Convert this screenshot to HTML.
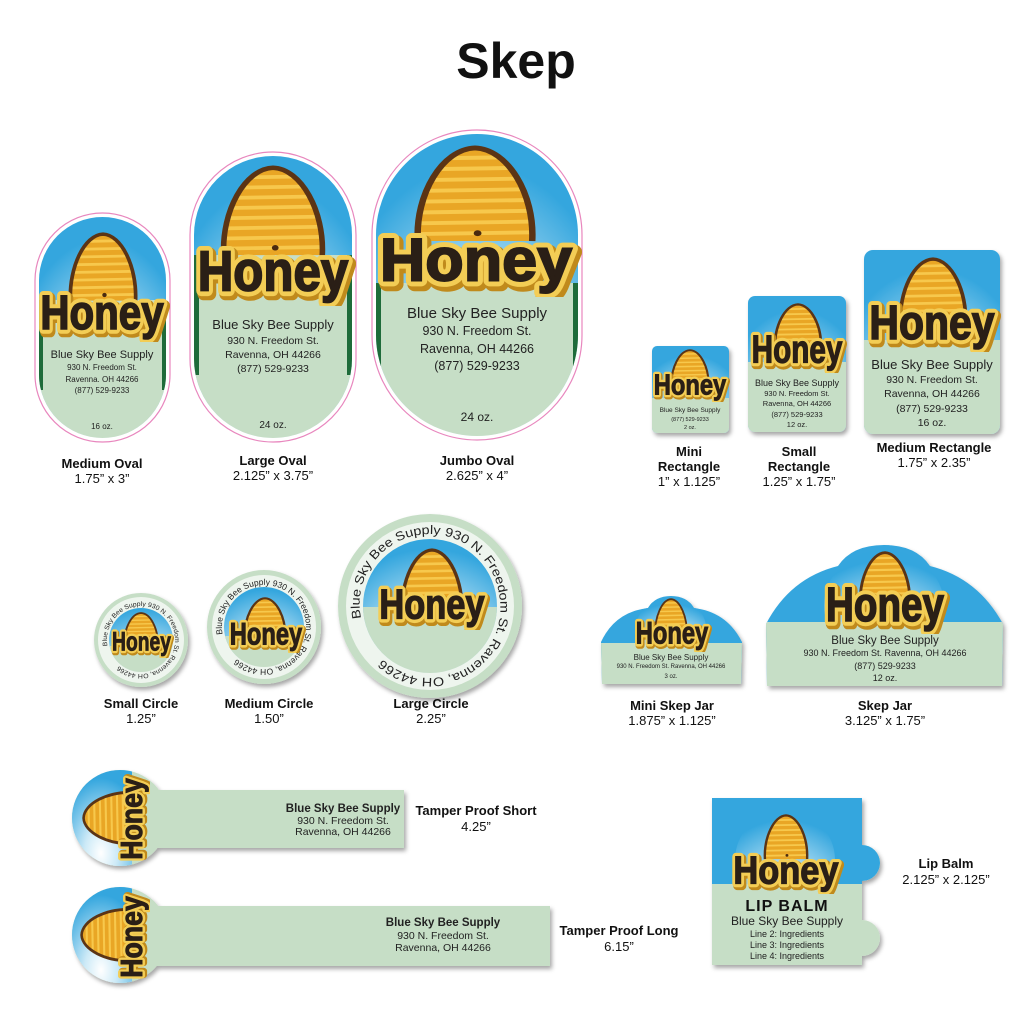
<!DOCTYPE html>
<html><head><meta charset="utf-8"><style>
html,body{margin:0;padding:0;background:#fff}
svg{display:block;font-family:"Liberation Sans",sans-serif}
.c{font-weight:bold;font-size:13px;fill:#111;text-anchor:middle}
.d{font-size:13px;fill:#111;text-anchor:middle}
.t{fill:#222;text-anchor:middle}
</style></head><body>
<svg width="1033" height="1032" viewBox="0 0 1033 1032" xmlns="http://www.w3.org/2000/svg">
<defs>
<radialGradient id="sky" cx="50%" cy="85%" r="75%">
<stop offset="0" stop-color="#ffffff"/><stop offset=".35" stop-color="#cdeaf7"/><stop offset="1" stop-color="#34a6de"/></radialGradient>
<filter id="sh" x="-10%" y="-10%" width="130%" height="130%"><feDropShadow dx="2" dy="3" stdDeviation="2" flood-color="#000" flood-opacity=".35"/></filter>
<clipPath id="dome"><path d="M6,98 C4,50 25,4 50,3 C75,4 96,50 94,98 Z"/></clipPath>
<symbol id="skep" viewBox="0 0 100 100" preserveAspectRatio="none">
<path d="M6,98 C4,50 25,4 50,3 C75,4 96,50 94,98 Z" fill="#e9a625"/>
<g clip-path="url(#dome)" stroke="#f7c84c" stroke-width="4">
<line x1="0" y1="14" x2="100" y2="12"/><line x1="0" y1="25" x2="100" y2="23"/><line x1="0" y1="36" x2="100" y2="34"/><line x1="0" y1="47" x2="100" y2="45"/><line x1="0" y1="58" x2="100" y2="56"/><line x1="0" y1="69" x2="100" y2="67"/><line x1="0" y1="80" x2="100" y2="78"/><line x1="0" y1="91" x2="100" y2="89"/></g>
<path d="M6,98 C4,50 25,4 50,3 C75,4 96,50 94,98" fill="none" stroke="#5b3415" stroke-width="5"/>
<circle cx="52" cy="90" r="3" fill="#4a2a10"/>
</symbol>
<symbol id="honey" viewBox="0 0 300 110" preserveAspectRatio="none">
<text x="154" y="90" text-anchor="middle" font-family="Liberation Sans" font-size="92" font-weight="bold" textLength="272" lengthAdjust="spacingAndGlyphs" fill="#c08a1c" stroke="#c08a1c" stroke-width="22" stroke-linejoin="round">Honey</text>
<text x="150" y="85" text-anchor="middle" font-family="Liberation Sans" font-size="92" font-weight="bold" textLength="272" lengthAdjust="spacingAndGlyphs" fill="#f3cd55" stroke="#f3cd55" stroke-width="18" stroke-linejoin="round">Honey</text>
<text x="150" y="85" text-anchor="middle" font-family="Liberation Sans" font-size="92" font-weight="bold" textLength="272" lengthAdjust="spacingAndGlyphs" fill="#2a1f16" stroke="#2a1f16" stroke-width="3">Honey</text>
</symbol>
<clipPath id="co1"><rect x="39" y="217" width="127" height="221" rx="63.5"/></clipPath>
<clipPath id="co2"><rect x="194" y="156" width="158" height="282" rx="79"/></clipPath>
<clipPath id="co3"><rect x="376" y="134" width="202" height="302" rx="101"/></clipPath>
</defs>

<text x="516" y="78" text-anchor="middle" font-size="50" font-weight="bold" fill="#111">Skep</text>

<!-- Medium Oval -->
<rect x="35" y="213" width="135" height="229" rx="67.5" fill="#fff" stroke="#e887be" stroke-width="1.2"/>
<g clip-path="url(#co1)">
<rect x="39" y="217" width="127" height="221" fill="url(#sky)"/>
<rect x="39" y="300" width="127" height="140" fill="#c6dec6"/>
<rect x="39" y="300" width="4" height="90" fill="#1e6b3a"/><rect x="162" y="300" width="4" height="90" fill="#1e6b3a"/>
</g>
<use href="#skep" x="66" y="232" width="74" height="70"/>
<use href="#honey" x="34" y="284" width="136" height="58"/>
<text class="t" x="102" y="358" font-size="11">Blue Sky Bee Supply</text>
<text class="t" x="102" y="370" font-size="8">930 N. Freedom St.</text>
<text class="t" x="102" y="382" font-size="8">Ravenna. OH 44266</text>
<text class="t" x="102" y="393" font-size="8">(877) 529-9233</text>
<text class="t" x="102" y="429" font-size="8">16 oz.</text>
<text class="c" x="102" y="468">Medium Oval</text><text class="d" x="102" y="483">1.75” x 3”</text>

<!-- Large Oval -->
<rect x="190" y="152" width="166" height="290" rx="83" fill="#fff" stroke="#e887be" stroke-width="1.2"/>
<g clip-path="url(#co2)">
<rect x="194" y="156" width="158" height="282" fill="url(#sky)"/>
<rect x="194" y="255" width="158" height="185" fill="#c6dec6"/>
<rect x="194" y="255" width="5" height="120" fill="#1e6b3a"/><rect x="347" y="255" width="5" height="120" fill="#1e6b3a"/>
</g>
<use href="#skep" x="217" y="165" width="112" height="92"/>
<use href="#honey" x="190" y="238" width="166" height="68"/>
<text class="t" x="273" y="329" font-size="13">Blue Sky Bee Supply</text>
<text class="t" x="273" y="344" font-size="10.5">930 N. Freedom St.</text>
<text class="t" x="273" y="358" font-size="10.5">Ravenna, OH 44266</text>
<text class="t" x="273" y="372" font-size="10.5">(877) 529-9233</text>
<text class="t" x="273" y="428" font-size="10">24 oz.</text>
<text class="c" x="273" y="465">Large Oval</text><text class="d" x="273" y="480">2.125” x 3.75”</text>

<!-- Jumbo Oval -->
<rect x="372" y="130" width="210" height="310" rx="105" fill="#fff" stroke="#e887be" stroke-width="1.2"/>
<g clip-path="url(#co3)">
<rect x="376" y="134" width="202" height="302" fill="url(#sky)"/>
<rect x="376" y="283" width="202" height="155" fill="#c6dec6"/>
<rect x="376" y="283" width="5" height="85" fill="#1e6b3a"/><rect x="573" y="283" width="5" height="85" fill="#1e6b3a"/>
</g>
<use href="#skep" x="410" y="145" width="130" height="98"/>
<use href="#honey" x="370" y="225" width="212" height="72"/>
<text class="t" x="477" y="318" font-size="15">Blue Sky Bee Supply</text>
<text class="t" x="477" y="335" font-size="12.5">930 N. Freedom St.</text>
<text class="t" x="477" y="353" font-size="12.5">Ravenna, OH 44266</text>
<text class="t" x="477" y="370" font-size="12.5">(877) 529-9233</text>
<text class="t" x="477" y="421" font-size="12">24 oz.</text>
<text class="c" x="477" y="465">Jumbo Oval</text><text class="d" x="477" y="480">2.625” x 4”</text>

<!-- Rectangles -->
<g filter="url(#sh)">
<rect x="652" y="346" width="77" height="87" rx="5" fill="url(#sky)"/>
<rect x="748" y="296" width="98" height="136" rx="7" fill="url(#sky)"/>
<rect x="864" y="250" width="136" height="184" rx="9" fill="url(#sky)"/>
</g>
<path d="M652,398 H729 V428 a5,5 0 0 1 -5,5 H657 a5,5 0 0 1 -5,-5 Z" fill="#c6dec6"/>
<path d="M748,362 H846 V425 a7,7 0 0 1 -7,7 H755 a7,7 0 0 1 -7,-7 Z" fill="#c6dec6"/>
<path d="M864,340 H1000 V425 a9,9 0 0 1 -9,9 H873 a9,9 0 0 1 -9,-9 Z" fill="#c6dec6"/>
<use href="#skep" x="669" y="349" width="42" height="38"/>
<use href="#honey" x="650" y="368" width="80" height="34"/>
<text class="t" x="690" y="412" font-size="6.5">Blue Sky Bee Supply</text>
<text class="t" x="690" y="421" font-size="5.5">(877) 529-9233</text>
<text class="t" x="690" y="429" font-size="5.5">2 oz.</text>
<use href="#skep" x="772" y="303" width="52" height="46"/>
<use href="#honey" x="747" y="327" width="100" height="46"/>
<text class="t" x="797" y="386" font-size="9">Blue Sky Bee Supply</text>
<text class="t" x="797" y="396" font-size="7.5">930 N. Freedom St.</text>
<text class="t" x="797" y="406" font-size="7.5">Ravenna, OH 44266</text>
<text class="t" x="797" y="417" font-size="7.5">(877) 529-9233</text>
<text class="t" x="797" y="427" font-size="7.5">12 oz.</text>
<use href="#skep" x="896" y="257" width="74" height="68"/>
<use href="#honey" x="863" y="294" width="138" height="58"/>
<text class="t" x="932" y="369" font-size="13">Blue Sky Bee Supply</text>
<text class="t" x="932" y="383" font-size="10.5">930 N. Freedom St.</text>
<text class="t" x="932" y="397" font-size="10.5">Ravenna, OH 44266</text>
<text class="t" x="932" y="412" font-size="10.5">(877) 529-9233</text>
<text class="t" x="932" y="426" font-size="10.5">16 oz.</text>
<text class="c" x="689" y="456">Mini</text><text class="c" x="689" y="471">Rectangle</text><text class="d" x="689" y="486">1” x 1.125”</text>
<text class="c" x="799" y="456">Small</text><text class="c" x="799" y="471">Rectangle</text><text class="d" x="799" y="486">1.25” x 1.75”</text>
<text class="c" x="934" y="452">Medium Rectangle</text><text class="d" x="934" y="467">1.75” x 2.35”</text>

<!-- Circles -->
<clipPath id="cc1"><circle cx="141" cy="640" r="32"/></clipPath>
<clipPath id="cc2"><circle cx="264" cy="627" r="40"/></clipPath>
<clipPath id="cc3"><circle cx="430" cy="606" r="67"/></clipPath>
<g filter="url(#sh)">
<circle cx="141" cy="640" r="47" fill="#c6dec6"/>
<circle cx="264" cy="627" r="57" fill="#c6dec6"/>
<circle cx="430" cy="606" r="92" fill="#c6dec6"/>
</g>
<circle cx="141" cy="640" r="43" fill="#eef5ee"/>
<circle cx="264" cy="627" r="52" fill="#eef5ee"/>
<circle cx="430" cy="606" r="84" fill="#eef5ee"/>
<g clip-path="url(#cc1)"><rect x="100" y="600" width="90" height="90" fill="url(#sky)"/><rect x="100" y="646" width="90" height="40" fill="#c6dec6"/></g>
<g clip-path="url(#cc2)"><rect x="220" y="580" width="90" height="100" fill="url(#sky)"/><rect x="220" y="636" width="90" height="40" fill="#c6dec6"/></g>
<g clip-path="url(#cc3)"><rect x="360" y="535" width="140" height="140" fill="url(#sky)"/><rect x="360" y="607" width="140" height="70" fill="#c6dec6"/></g>
<path id="p1" d="M107.5,645.9 A34,34 0 1 1 174.5,634.1 A34,34 0 1 1 107.5,645.9" fill="none"/>
<path id="p2" d="M222.6,634.3 A42,42 0 1 1 305.4,619.7 A42,42 0 1 1 222.6,634.3" fill="none"/>
<path id="p3" d="M361.1,618.2 A70,70 0 1 1 498.9,593.8 A70,70 0 1 1 361.1,618.2" fill="none"/>
<text font-size="6.5" fill="#222"><textPath href="#p1" textLength="190" lengthAdjust="spacingAndGlyphs">Blue Sky Bee Supply    930 N. Freedom St. Ravenna, OH 44266</textPath></text>
<text font-size="8.5" fill="#222"><textPath href="#p2" textLength="235" lengthAdjust="spacingAndGlyphs">Blue Sky Bee Supply    930 N. Freedom St. Ravenna, OH 44266</textPath></text>
<text font-size="12.5" fill="#222"><textPath href="#p3" textLength="400" lengthAdjust="spacingAndGlyphs">Blue Sky Bee Supply     930 N. Freedom St. Ravenna, OH 44266</textPath></text>
<use href="#skep" x="122" y="612" width="38" height="34"/>
<use href="#honey" x="109" y="626" width="65" height="32"/>
<use href="#skep" x="242" y="597" width="46" height="42"/>
<use href="#honey" x="226" y="615" width="80" height="38"/>
<use href="#skep" x="398" y="548" width="68" height="66"/>
<use href="#honey" x="374" y="580" width="116" height="50"/>
<text class="c" x="141" y="708">Small Circle</text><text class="d" x="141" y="723">1.25”</text>
<text class="c" x="269" y="708">Medium Circle</text><text class="d" x="269" y="723">1.50”</text>
<text class="c" x="431" y="708">Large Circle</text><text class="d" x="431" y="723">2.25”</text>

<!-- Skep jars -->
<clipPath id="cj1"><path d="M602,684 L601,642 Q615,612 648,608 Q655,596 671,596 Q687,596 694,608 Q727,612 742,642 L741,684 Z"/></clipPath>
<clipPath id="cj2"><path d="M767,686 L766,624 Q790,578 838,566 Q852,545 884,545 Q916,545 930,566 Q978,578 1003,624 L1002,686 Z"/></clipPath>
<g filter="url(#sh)">
<path d="M602,684 L601,642 Q615,612 648,608 Q655,596 671,596 Q687,596 694,608 Q727,612 742,642 L741,684 Z" fill="#34a6de"/>
<path d="M767,686 L766,624 Q790,578 838,566 Q852,545 884,545 Q916,545 930,566 Q978,578 1003,624 L1002,686 Z" fill="#34a6de"/>
</g>
<g clip-path="url(#cj1)"><ellipse cx="671" cy="628" rx="35" ry="30" fill="url(#sky)"/><rect x="600" y="643" width="145" height="45" fill="#c6dec6"/></g>
<g clip-path="url(#cj2)"><ellipse cx="884" cy="605" rx="60" ry="55" fill="url(#sky)"/><rect x="760" y="622" width="250" height="70" fill="#c6dec6"/></g>
<use href="#skep" x="653" y="598" width="36" height="38"/>
<use href="#honey" x="632" y="614" width="80" height="38"/>
<text class="t" x="671" y="660" font-size="8">Blue Sky Bee Supply</text>
<text class="t" x="671" y="668" font-size="6">930 N. Freedom St. Ravenna, OH 44266</text>
<text class="t" x="671" y="678" font-size="6">3 oz.</text>
<use href="#skep" x="857" y="551" width="56" height="54"/>
<use href="#honey" x="820" y="576" width="130" height="58"/>
<text class="t" x="885" y="644" font-size="11.5">Blue Sky Bee Supply</text>
<text class="t" x="885" y="656" font-size="9">930 N. Freedom St. Ravenna, OH 44266</text>
<text class="t" x="885" y="669" font-size="9">(877) 529-9233</text>
<text class="t" x="885" y="681" font-size="9">12 oz.</text>
<text class="c" x="672" y="710">Mini Skep Jar</text><text class="d" x="672" y="725">1.875” x 1.125”</text>
<text class="c" x="885" y="710">Skep Jar</text><text class="d" x="885" y="725">3.125” x 1.75”</text>

<!-- Tamper proof -->
<clipPath id="ct1"><circle cx="120" cy="818" r="48"/></clipPath>
<clipPath id="ct2"><circle cx="120" cy="935" r="48"/></clipPath>
<g filter="url(#sh)">
<rect x="140" y="790" width="264" height="58" fill="#c6dec6"/>
<circle cx="120" cy="818" r="48" fill="#c6dec6"/>
<rect x="140" y="906" width="410" height="60" fill="#c6dec6"/>
<circle cx="120" cy="935" r="48" fill="#c6dec6"/>
</g>
<g clip-path="url(#ct1)"><rect x="70" y="768" width="62" height="100" fill="url(#sky)"/></g>
<g clip-path="url(#ct2)"><rect x="70" y="885" width="62" height="100" fill="url(#sky)"/></g>
<use href="#skep" x="0" y="0" width="58" height="52" transform="translate(82,847) rotate(-90)"/>
<use href="#honey" x="0" y="0" width="90" height="36" transform="translate(114,864) rotate(-90)"/>
<use href="#skep" x="0" y="0" width="58" height="52" transform="translate(80,964) rotate(-90)"/>
<use href="#honey" x="0" y="0" width="90" height="36" transform="translate(114,982) rotate(-90)"/>
<text x="343" y="812" text-anchor="middle" font-size="11.5" font-weight="bold" fill="#222">Blue Sky Bee Supply</text>
<text x="343" y="824" text-anchor="middle" font-size="10.5" fill="#222">930 N. Freedom St.</text>
<text x="343" y="835" text-anchor="middle" font-size="10.5" fill="#222">Ravenna, OH 44266</text>
<text x="443" y="926" text-anchor="middle" font-size="11.5" font-weight="bold" fill="#222">Blue Sky Bee Supply</text>
<text x="443" y="939" text-anchor="middle" font-size="10.5" fill="#222">930 N. Freedom St.</text>
<text x="443" y="951" text-anchor="middle" font-size="10.5" fill="#222">Ravenna, OH 44266</text>
<text class="c" x="476" y="815">Tamper Proof Short</text><text class="d" x="476" y="831">4.25”</text>
<text class="c" x="619" y="935">Tamper Proof Long</text><text class="d" x="619" y="951">6.15”</text>

<!-- Lip balm -->
<g filter="url(#sh)">
<path d="M712,798 H862 V845 A18,18 0 0 1 862,881 V920 A18,18 0 0 1 862,956 V965 H712 Z" fill="#c6dec6"/>
</g>
<clipPath id="cl"><rect x="712" y="798" width="170" height="86"/></clipPath>
<path d="M712,798 H862 V845 A18,18 0 0 1 862,881 V884 H712 Z" fill="#34a6de"/>
<ellipse cx="785" cy="860" rx="50" ry="50" fill="url(#sky)" clip-path="url(#cl)" opacity=".9"/>
<use href="#skep" x="762" y="814" width="48" height="46"/>
<use href="#honey" x="728" y="848" width="116" height="46"/>
<text x="787" y="911" text-anchor="middle" font-size="16" font-weight="bold" fill="#111" letter-spacing="1">LIP BALM</text>
<text class="t" x="787" y="925" font-size="12">Blue Sky Bee Supply</text>
<text class="t" x="787" y="937" font-size="9">Line 2: Ingredients</text>
<text class="t" x="787" y="948" font-size="9">Line 3: Ingredients</text>
<text class="t" x="787" y="959" font-size="9">Line 4: Ingredients</text>
<text class="c" x="946" y="868">Lip Balm</text><text class="d" x="946" y="884">2.125” x 2.125”</text>
</svg>
</body></html>
